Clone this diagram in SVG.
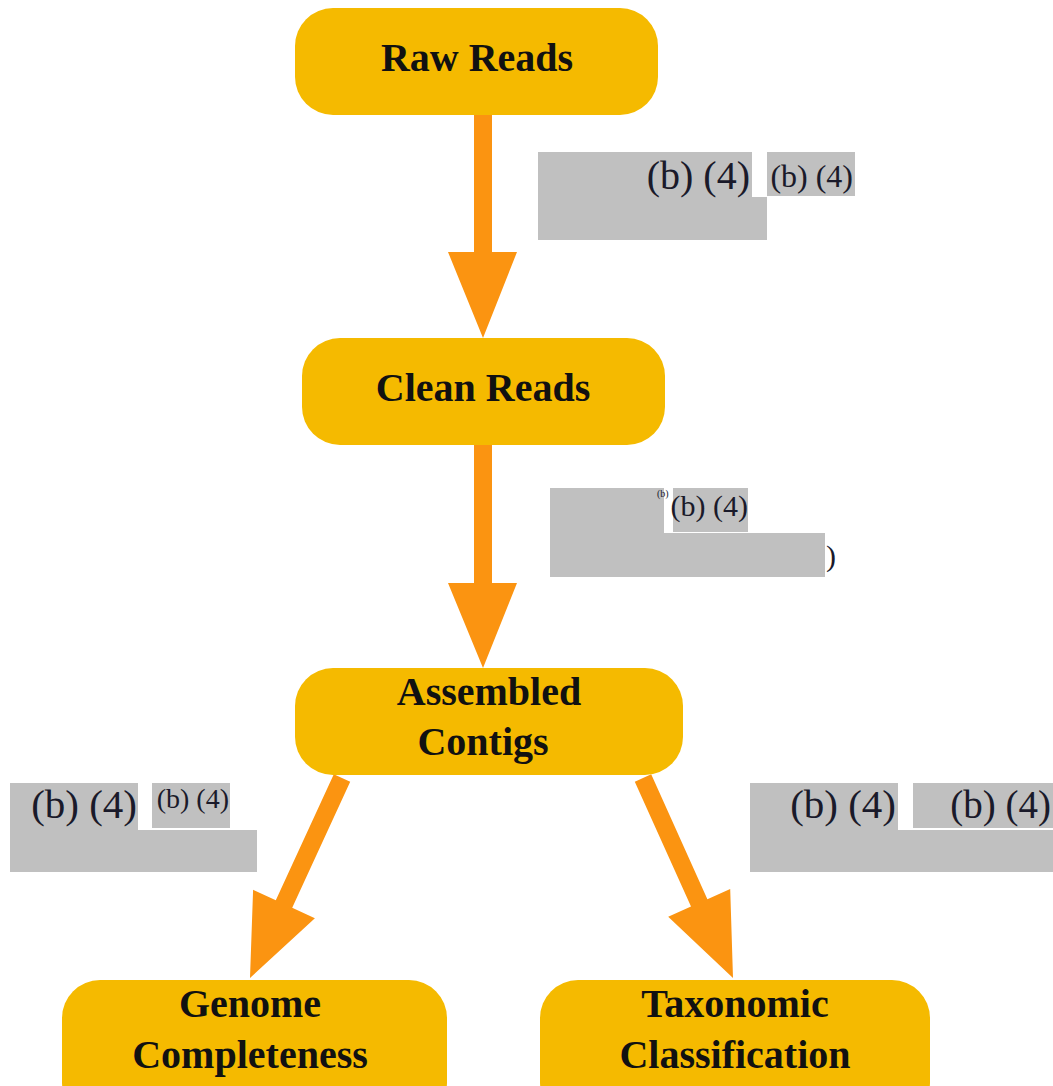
<svg xmlns="http://www.w3.org/2000/svg" width="1053" height="1086" viewBox="0 0 1053 1086">
<style>
.node{fill:#F5BA00}
.nt{font-family:"Liberation Serif","DejaVu Serif",serif;font-weight:bold;font-size:40px;fill:#111;text-anchor:middle}
.arrow{fill:#FB9411}
.red{fill:#C0C0C0}
.rt{font-family:"Liberation Serif","DejaVu Serif",serif;fill:#1a1a2a}
</style>
<rect width="1053" height="1086" fill="#ffffff"/>
<g id="connectors">
<polygon class="arrow" points="474,110 492,110 492,252 517,252 483,338 448,252 474,252"/>
<polygon class="arrow" points="474,440 492,440 492,583 517,583 483,668 448,583 474,583"/>
<polygon class="arrow" points="333.8,774.2 350.2,781.8 292.2,907.8 314.9,918.2 250,978 253.1,889.8 275.8,900.2"/>
<polygon class="arrow" points="634.8,781.7 651.2,774.3 707.4,899.2 730.2,889 733,978 668.2,916.8 691,906.6"/>
</g>
<g id="redactions">
<path class="red" d="M538,152 H752 V197 H767 V240 H538 Z"/>
<rect class="red" x="767" y="152" width="88" height="44"/>
<text class="rt" x="750" y="189" font-size="40" text-anchor="end">(b) (4)</text>
<text class="rt" x="853" y="187" font-size="32" text-anchor="end">(b) (4)</text>
<path class="red" d="M550,488 H664 V533 H825 V577 H550 Z"/>
<rect class="red" x="673" y="488" width="75" height="44"/>
<text class="rt" x="657" y="497" font-size="10">(b)</text>
<text class="rt" x="748" y="516" font-size="30" text-anchor="end">(b) (4)</text>
<text class="rt" x="826" y="566" font-size="30">)</text>
<path class="red" d="M10,783 H138 V830 H257 V872 H10 Z"/>
<rect class="red" x="152" y="783" width="78" height="45"/>
<text class="rt" x="137" y="818" font-size="41" text-anchor="end">(b) (4)</text>
<text class="rt" x="229" y="808" font-size="28" text-anchor="end">(b) (4)</text>
<path class="red" d="M750,783 H898 V830 H1053 V872 H750 Z"/>
<rect class="red" x="913" y="783" width="140" height="45"/>
<text class="rt" x="896" y="818" font-size="41" text-anchor="end">(b) (4)</text>
<text class="rt" x="1051" y="818" font-size="39" text-anchor="end">(b) (4)</text>
</g>
<g id="raw-reads">
<rect class="node" x="295" y="8" width="363" height="107" rx="38"/>
<text class="nt" x="477" y="71">Raw Reads</text>
</g>
<g id="clean-reads">
<rect class="node" x="302" y="338" width="363" height="107" rx="38"/>
<text class="nt" x="483" y="401">Clean Reads</text>
</g>
<g id="assembled-contigs">
<rect class="node" x="295" y="668" width="388" height="107" rx="38"/>
<text class="nt" x="489" y="705">Assembled</text>
<text class="nt" x="483" y="755">Contigs</text>
</g>
<g id="genome-completeness">
<rect class="node" x="62" y="980" width="385" height="140" rx="38"/>
<text class="nt" x="250" y="1017">Genome</text>
<text class="nt" x="250" y="1068">Completeness</text>
</g>
<g id="taxonomic-classification">
<rect class="node" x="540" y="980" width="390" height="140" rx="38"/>
<text class="nt" x="735" y="1017">Taxonomic</text>
<text class="nt" x="735" y="1068">Classification</text>
</g>
</svg>
